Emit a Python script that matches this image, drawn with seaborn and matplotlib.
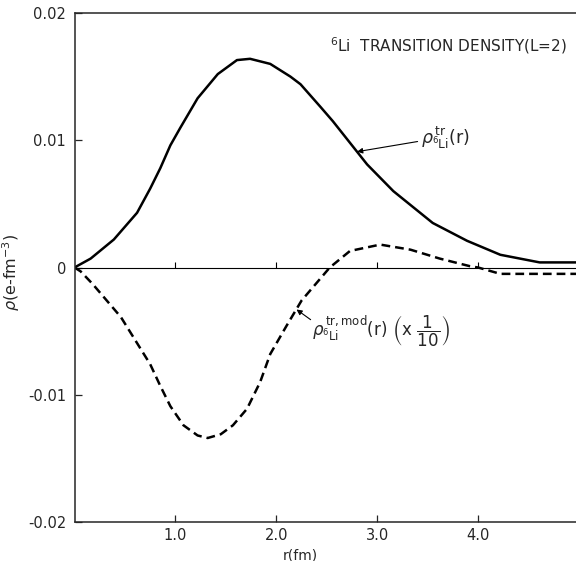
import numpy as np
import matplotlib
matplotlib.use('Agg')
import matplotlib.pyplot as plt
import seaborn as sns
import pandas as pd

# values
r_tr = [0.0, 0.16, 0.39, 0.62, 0.75, 0.85, 0.95, 1.05, 1.22, 1.42, 1.61, 1.74,
        1.94, 2.14, 2.24, 2.44, 2.56, 2.90, 3.16, 3.55, 3.89, 4.22, 4.61, 4.97]
rho_tr = [0.0, 0.0007, 0.0022, 0.0043, 0.0062, 0.0078, 0.0096, 0.0110, 0.0133,
          0.0152, 0.0163, 0.0164, 0.0160, 0.0150, 0.0144, 0.0126, 0.0115, 0.0081,
          0.0060, 0.0035, 0.0021, 0.0010, 0.0004, 0.0004]

r_mod = [0.0, 0.06, 0.18, 0.46, 0.75, 0.85, 0.95, 1.08, 1.22, 1.32, 1.45, 1.57,
         1.71, 1.84, 1.94, 2.10, 2.25, 2.39, 2.53, 2.73, 3.03, 3.33, 3.62, 3.92,
         4.00, 4.22, 4.54, 4.97]
rho_mod = [0.0, -0.0003, -0.0013, -0.0039, -0.0076, -0.0093, -0.0109, -0.0124,
           -0.0132, -0.0134, -0.0131, -0.0124, -0.0111, -0.0090, -0.0068, -0.0046,
           -0.0026, -0.0013, 0.0, 0.0013, 0.0018, 0.0014, 0.0007, 0.0001,
           0.0, -0.0005, -0.0005, -0.0005]

x_ticks = [1.0, 2.0, 3.0, 4.0]
x_ticklabels = ['1.0', '2.0', '3.0', '4.0']
y_ticks = [-0.02, -0.01, 0, 0.01, 0.02]
y_ticklabels = ['-0.02', '-0.01', '0', '0.01', '0.02']

sns.set_style('ticks')
plt.rcParams['font.family'] = ['DejaVu Sans']
plt.rcParams['mathtext.fontset'] = 'dejavusans'

fig = plt.figure(figsize=(5.76, 5.61), dpi=100)
ax = fig.add_axes([74.5 / 576, 39 / 561, 1 - 74.5 / 576, (522 - 13) / 561])

df_tr = pd.DataFrame({'r': r_tr, 'rho': rho_tr})
df_mod = pd.DataFrame({'r': r_mod, 'rho': rho_mod})
sns.lineplot(data=df_tr, x='r', y='rho', ax=ax, color='black', lw=1.8, sort=False)
sns.lineplot(data=df_mod, x='r', y='rho', ax=ax, color='black', lw=1.8, sort=False,
             linestyle=(0, (3.5, 2)))

ax.axhline(0, color='black', lw=0.8)
ax.vlines(x_ticks, 0, 0.0004, color='black', lw=0.8)

ax.set_xlim(0, 4.97)
ax.set_ylim(-0.02, 0.02)
ax.set_xticks(x_ticks)
ax.set_xticklabels(x_ticklabels)
ax.set_yticks(y_ticks)
ax.set_yticklabels(y_ticklabels)
ax.tick_params(direction='in', length=5, width=0.9, labelsize=10.5)
ax.tick_params(axis='x', pad=4)
ax.tick_params(axis='y', pad=6)

ax.spines['right'].set_visible(False)
for s in ['left', 'bottom', 'top']:
    ax.spines[s].set_linewidth(1.1)

ax.set_xlabel('r(fm)', fontsize=10)
ax.xaxis.set_label_coords(0.45, -0.052)
ax.set_ylabel(r'$\rho$(e-fm$^{-3}$)', fontsize=11.5)
ax.yaxis.set_label_coords(-0.105, 0.49)

ax.text(4.88, 0.0174, r'$^{6}$Li  TRANSITION DENSITY(L=2)', ha='right', va='center',
        fontsize=11)

# solid curve label
ax.annotate('', xy=(2.8, 0.0091), xytext=(3.4, 0.0099),
            arrowprops=dict(arrowstyle='-|>', lw=0.8, color='black', mutation_scale=8,
                            shrinkA=0, shrinkB=0))
ax.text(3.43, 0.0102, r'$\rho^{\,\mathrm{tr}}_{{}^{6}\mathrm{Li}}(\mathrm{r})$',
        fontsize=12.5, ha='left', va='center')

# dashed curve label
ax.annotate('', xy=(2.2, -0.0033), xytext=(2.34, -0.0041),
            arrowprops=dict(arrowstyle='-|>', lw=0.8, color='black', mutation_scale=8,
                            shrinkA=0, shrinkB=0))
ax.text(2.35, -0.0050,
        r'$\rho^{\,\mathrm{tr,mod}}_{{}^{6}\mathrm{Li}}(\mathrm{r})\ \left(\mathrm{x}\ \dfrac{1}{10}\right)$',
        fontsize=12, ha='left', va='center')

fig.savefig('out.png', dpi=100)
